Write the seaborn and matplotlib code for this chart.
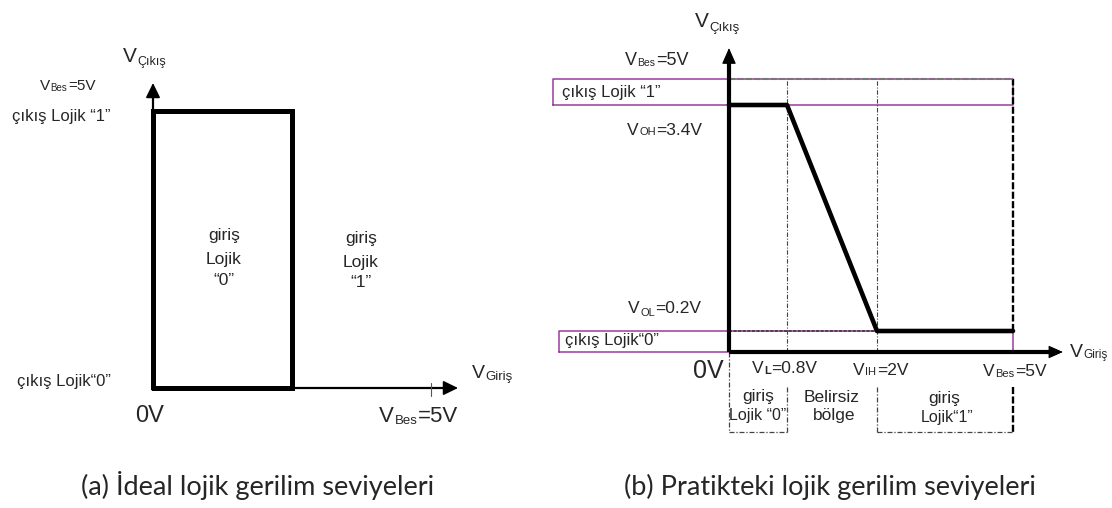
import numpy as np
import pandas as pd
import matplotlib
matplotlib.use("Agg")
import matplotlib.pyplot as plt
import seaborn as sns

# ---------------- data ----------------
V_BES = 5.0          # supply
V_TH_IDEAL = 2.5     # ideal switching threshold
V_OH = 3.4
V_OL = 0.2
V_IL = 0.8
V_IH = 2.0

# ideal characteristic (drawn as the thick closed outline)
ideal_vin = [0, 0, V_TH_IDEAL, V_TH_IDEAL, 0]
ideal_vout = [0, V_BES, V_BES, 0, 0]

# practical transfer characteristic
prac_vin = [0, V_IL, V_IH, V_BES]
prac_vout = [V_OH, V_OH, V_OL, V_OL]

captions = ["(a) İdeal lojik gerilim seviyeleri", "(b) Pratikteki lojik gerilim seviyeleri"]

# ---------------- setup ----------------
sns.set_style("white")
SANS = ["Liberation Sans", "DejaVu Sans"]
NARROW = ["Liberation Sans Narrow", "Liberation Sans", "DejaVu Sans"]
CAP = ["Lato", "DejaVu Sans"]
plt.rcParams["font.family"] = SANS

W, H = 1112, 508
fig = plt.figure(figsize=(W / 100, H / 100), dpi=100)
fig.patch.set_facecolor("white")
renderer = fig.canvas.get_renderer()


def ftext(x, y, s, size, fam=SANS, ha="left", va="baseline", **kw):
    return fig.text(x / W, 1 - y / H, s, fontsize=size, family=fam, ha=ha, va=va, **kw)


def chain(x, y, parts):
    for s, size, dy, fam, weight in parts:
        t = ftext(x, y + dy, s, size, fam, fontweight=weight)
        bb = t.get_window_extent(renderer=renderer)
        x = bb.x1 + 0.5


def add_px_axes(x0, y0, x1, y1):
    ax = fig.add_axes([x0 / W, 1 - y1 / H, (x1 - x0) / W, (y1 - y0) / H])
    ax.set_facecolor("none")
    return ax


def head(ax, tip, tail, ms=20, hl=0.45, hw=0.22, lw=1.0):
    ax.annotate("", xy=tip, xytext=tail,
                arrowprops=dict(arrowstyle=f"-|>,head_length={hl},head_width={hw}",
                                mutation_scale=ms, lw=lw, color="black",
                                shrinkA=0, shrinkB=0), annotation_clip=False)


# ================= LEFT PANEL (ideal) =================
LO_X, LO_Y, LSX, LSY = 153, 388, 55.6, 55.4
LX = lambda px: (px - LO_X) / LSX
LY = lambda py: (LO_Y - py) / LSY

axL = add_px_axes(0, 0, 540, 450)
axL.set_xlim(LX(0), LX(540))
axL.set_ylim(LY(450), LY(0))
axL.axis("off")

# axes with arrows
axL.plot([0, 0], [0, LY(90)], color="black", lw=1.6, solid_capstyle="butt")
axL.plot([0, LX(450)], [0, 0], color="black", lw=1.6, solid_capstyle="butt")
head(axL, (0, LY(83)), (0, LY(95)), lw=1.2)
head(axL, (LX(458), 0), (LX(446), 0), lw=1.2)
# tick at V_Bes
axL.plot([V_BES, V_BES], [LY(383), LY(396)], color="#555555", lw=0.8)

df_ideal = pd.DataFrame({"vin": ideal_vin, "vout": ideal_vout})
sns.lineplot(data=df_ideal, x="vin", y="vout", sort=False, estimator=None,
             color="black", lw=3.6, ax=axL, legend=False)
axL.lines[-1].set_solid_joinstyle("miter")
axL.set_xlim(LX(0), LX(540))
axL.set_ylim(LY(450), LY(0))
axL.axis("off")

# texts
chain(123, 62, [("V", 15, 0, SANS, "normal"), ("Çıkış", 9, 3, SANS, "normal")])
chain(40, 90, [("V", 11, 0, NARROW, "normal"), ("Bes", 7, 1, NARROW, "normal"),
               ("=5V", 11, 0, NARROW, "normal")])
ftext(12, 121, "çıkış Lojik “1”", 12)
ftext(17, 386, "çıkış Lojik“0”", 12)
for cx, lines, bases in [(224, ["giriş", "Lojik", "“0”"], [240, 264, 285]),
                         (361, ["giriş", "Lojik", "“1”"], [243, 267, 287])]:
    for s, b in zip(lines, bases):
        ftext(cx, b, s, 12.5, ha="center")
ftext(135, 422, "0V", 17, NARROW)
chain(379, 422, [("V", 16, 0, NARROW, "normal"), ("Bes", 9.5, 2, NARROW, "normal"),
                 ("=5V", 16, 0, NARROW, "normal")])
chain(472, 378, [("V", 14, 0, SANS, "normal"), ("Giriş", 9.5, 2, SANS, "normal")])

# ================= RIGHT PANEL (practical) =================
RO_X, RO_Y = 729, 352


def make_pw(kv, kp):
    kv = np.asarray(kv, float)
    kp = np.asarray(kp, float)
    s0 = (kp[1] - kp[0]) / (kv[1] - kv[0])
    s1 = (kp[-1] - kp[-2]) / (kv[-1] - kv[-2])

    def fwd(v):
        v = np.asarray(v, float)
        out = np.interp(v, kv, kp)
        out = np.where(v < kv[0], kp[0] + (v - kv[0]) * s0, out)
        out = np.where(v > kv[-1], kp[-1] + (v - kv[-1]) * s1, out)
        return out

    def inv(p):
        p = np.asarray(p, float)
        out = np.interp(p, kp, kv)
        out = np.where(p < kp[0], kv[0] + (p - kp[0]) / s0, out)
        out = np.where(p > kp[-1], kv[-1] + (p - kp[-1]) / s1, out)
        return out

    return fwd, inv


# schematic (not-to-scale) drawing positions of the key voltages
fx, ix = make_pw([0, V_IL, V_IH, V_BES], [0, 58, 148, 284])
fy, iy = make_pw([0, V_OL, V_OH, V_BES], [0, 21, 247, 273])
RX = lambda px: float(ix(px - RO_X))
RY = lambda py: float(iy(RO_Y - py))

axR = add_px_axes(540, 0, 1112, 450)
axR.set_xscale("function", functions=(fx, ix))
axR.set_yscale("function", functions=(fy, iy))
axR.set_xlim(RX(540), RX(1112))
axR.set_ylim(RY(450), RY(0))

PURPLE = "#9b3b9b"
# purple boxes
axR.plot([RX(553), V_BES, V_BES, RX(553), RX(553)],
         [V_OH, V_OH, V_BES, V_BES, V_OH], color=PURPLE, lw=1.1, clip_on=False)
axR.plot([RX(559), V_BES, V_BES, RX(559), RX(559)],
         [0, 0, V_OL, V_OL, 0], color=PURPLE, lw=1.1, clip_on=False)

# guide lines
DD = (0, (4, 1.5, 1, 1.5))
axR.plot([V_IL, V_IL], [0, V_BES], color="#444444", lw=0.8, ls=DD)
axR.plot([V_IH, V_IH], [0, V_BES], color="#444444", lw=0.8, ls=DD)
axR.plot([V_BES, V_BES], [V_OL, V_BES], color="black", lw=1.7, ls=(0, (3, 1)))
axR.plot([0, V_BES], [V_BES, V_BES], color="#777777", lw=1.5, ls=(0, (3, 1)))
axR.plot([0, V_IH], [V_OL, V_OL], color="#333333", lw=1.1, ls=(0, (2, 1)))
# region boxes below the input axis
yb1, yb2 = RY(387), RY(432)
axR.plot([0, 0], [0, yb2], color="#444444", lw=0.9, ls=DD)
axR.plot([V_IL, V_IL], [yb1, yb2], color="#444444", lw=0.9, ls=DD)
axR.plot([V_IH, V_IH], [yb1, yb2], color="#444444", lw=0.9, ls=DD)
axR.plot([V_BES, V_BES], [yb1, yb2], color="black", lw=1.7, ls=(0, (3, 1)))
axR.plot([0, V_IL], [yb2, yb2], color="#444444", lw=0.9, ls=DD)
axR.plot([V_IH, V_BES], [yb2, yb2], color="#444444", lw=0.9, ls=DD)

# axes (thick) with arrows
axR.plot([0, 0], [0, RY(60)], color="black", lw=3.0, solid_capstyle="butt")
axR.plot([0, RX(1052)], [0, 0], color="black", lw=3.0, solid_capstyle="butt")
head(axR, (0, RY(48)), (0, RY(62)), ms=20, hl=0.5, hw=0.22, lw=0.8)
head(axR, (RX(1063), 0), (RX(1050), 0), ms=20, hl=0.45, hw=0.2, lw=0.8)

df_prac = pd.DataFrame({"vin": prac_vin, "vout": prac_vout})
sns.lineplot(data=df_prac, x="vin", y="vout", sort=False, estimator=None,
             color="black", lw=3.3, ax=axR, legend=False)
axR.set_xlim(RX(540), RX(1112))
axR.set_ylim(RY(450), RY(0))
axR.axis("off")

# texts
chain(695, 27, [("V", 15, 0, SANS, "normal"), ("Çıkış", 9.5, 4, SANS, "normal")])
chain(625, 65, [("V", 13, 0, NARROW, "normal"), ("Bes", 7.5, 1, NARROW, "normal"),
                ("=5V", 13, 0, NARROW, "normal")])
ftext(562, 97, "çıkış Lojik “1”", 12)
chain(627, 135, [("V", 12.5, 0, NARROW, "normal"), ("OH", 8, 0, NARROW, "normal"),
                 ("=3.4V", 12.5, 0, SANS, "normal")])
chain(628, 313, [("V", 12.5, 0, NARROW, "normal"), ("OL", 8, 3, NARROW, "normal"),
                 ("=0.2V", 12.5, 0, SANS, "normal")])
ftext(565, 345, "çıkış Lojik“0”", 12)
ftext(693, 378, "0V", 18, NARROW)
chain(752, 373, [("V", 12.5, 0, SANS, "normal"), ("L", 8, 1, SANS, "bold"),
                 ("=0.8V", 12.5, 0, SANS, "normal")])
chain(853, 375, [("V", 12.5, 0, NARROW, "normal"), ("IH", 8, 0, NARROW, "normal"),
                 ("=2V", 12.5, 0, SANS, "normal")])
chain(983, 376, [("V", 12.5, 0, NARROW, "normal"), ("Bes", 8, 1, NARROW, "normal"),
                 ("=5V", 12.5, 0, SANS, "normal")])
chain(1070, 357, [("V", 14, 0, NARROW, "normal"), ("Giriş", 8.5, 1, NARROW, "normal")])
ftext(758, 401, "giriş", 12.5, ha="center")
ftext(758, 420, "Lojik “0”", 11.5, ha="center")
ftext(832, 402, "Belirsiz", 12.5, ha="center")
ftext(834, 420, "bölge", 12.5, ha="center")
ftext(944, 403, "giriş", 12.5, ha="center")
ftext(947, 422, "Lojik“1”", 11.5, ha="center")

# captions
ftext(258, 495, captions[0], 19.5, CAP, ha="center")
ftext(830, 495, captions[1], 19.5, CAP, ha="center")

fig.savefig("out.png", dpi=100, facecolor="white")
